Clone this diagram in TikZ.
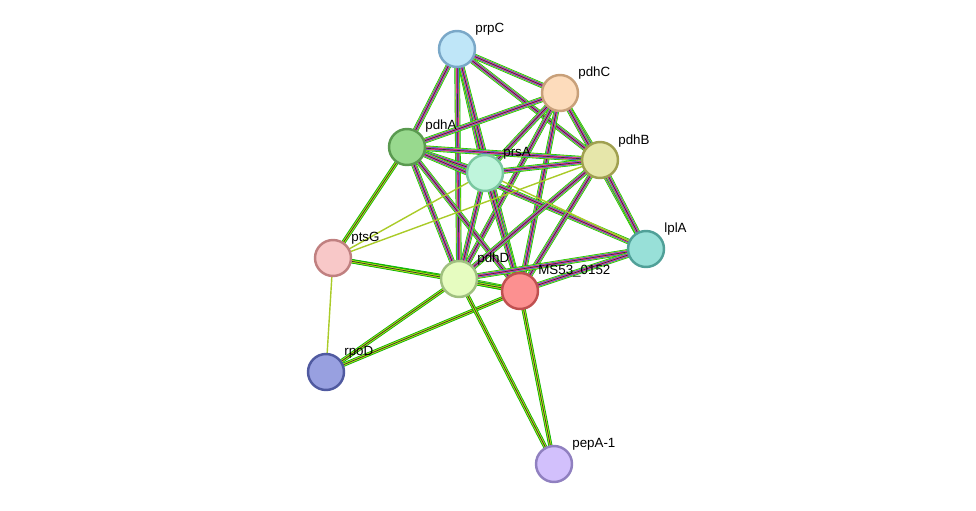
\documentclass[tikz,border=0pt]{standalone}
\usepackage{fontspec}
\setmainfont{Liberation Sans}
\usetikzlibrary{backgrounds}
\begin{document}
\begin{tikzpicture}[x=0.02cm,y=-0.02cm,
  nd/.style={circle,minimum size=0.72cm,line width=1.4pt,inner sep=0pt},
  lb/.style={font=\fontsize{7.6}{9}\selectfont,anchor=west,inner sep=0pt},
  yel/.style={line width=0.8pt,draw=yellow!70!green!90!black}]
\useasboundingbox (0,0) rectangle (976,510);
\node[nd,fill={rgb,255:red,191;green,230;blue,248},draw={rgb,255:red,122;green,168;blue,200}] (prpC) at (457,49) {};
\node[nd,fill={rgb,255:red,253;green,220;blue,188},draw={rgb,255:red,200;green,160;blue,122}] (pdhC) at (560,93) {};
\node[nd,fill={rgb,255:red,152;green,217;blue,142},draw={rgb,255:red,90;green,154;blue,80}] (pdhA) at (407,147) {};
\node[nd,fill={rgb,255:red,191;green,245;blue,220},draw={rgb,255:red,122;green,200;blue,160}] (prsA) at (485,173) {};
\node[nd,fill={rgb,255:red,230;green,230;blue,170},draw={rgb,255:red,160;green,160;blue,80}] (pdhB) at (600,160) {};
\node[nd,fill={rgb,255:red,152;green,224;blue,216},draw={rgb,255:red,80;green,160;blue,152}] (lplA) at (646,249) {};
\node[nd,fill={rgb,255:red,248;green,200;blue,200},draw={rgb,255:red,192;green,128;blue,128}] (ptsG) at (333,258) {};
\node[nd,fill={rgb,255:red,230;green,252;blue,192},draw={rgb,255:red,160;green,192;blue,128}] (pdhD) at (459,279) {};
\node[nd,fill={rgb,255:red,252;green,144;blue,144},draw={rgb,255:red,192;green,80;blue,80}] (MS) at (520,291) {};
\node[nd,fill={rgb,255:red,152;green,160;blue,224},draw={rgb,255:red,80;green,90;blue,160}] (rpoD) at (326,372) {};
\node[nd,fill={rgb,255:red,210;green,192;blue,252},draw={rgb,255:red,144;green,128;blue,192}] (pepA) at (554,464) {};
\node[lb] (l1) at (475,29) {prpC};
\node[lb] (l2) at (578,73) {pdhC};
\node[lb] (l3) at (425,126) {pdhA};
\node[lb] (l4) at (503,153) {prsA};
\node[lb] (l5) at (618,141) {pdhB};
\node[lb] (l6) at (664,229) {lplA};
\node[lb] (l7) at (351,238) {ptsG};
\node[lb] (l8) at (477,259) {pdhD};
\node[lb] (l9) at (538,271) {MS53\_0152};
\node[lb] (l10) at (344,352) {rpoD};
\node[lb] (l11) at (572,444) {pepA-1};
\begin{scope}[on background layer]
\foreach \a/\b in {prpC/pdhA,prpC/prsA,prpC/pdhD,prpC/MS,prpC/pdhC,prpC/pdhB,pdhC/pdhA,pdhC/prsA,pdhC/pdhB,pdhC/pdhD,pdhC/MS,pdhC/lplA,pdhA/prsA,pdhA/pdhB,pdhA/pdhD,pdhA/MS,pdhA/lplA,prsA/pdhB,prsA/pdhD,prsA/MS,pdhB/pdhD,pdhB/MS,pdhB/lplA,lplA/pdhD,lplA/MS,pdhD/MS}{
 \draw[line width=3.2pt,green!75!black] (\a.center)--(\b.center);
 \draw[line width=2.5pt,yellow!80!green] (\a.center)--(\b.center);
 \draw[line width=1.9pt,cyan!70!blue] (\a.center)--(\b.center);
 \draw[line width=1.3pt,magenta!80] (\a.center)--(\b.center);
 \draw[line width=0.4pt,black!80] (\a.center)--(\b.center);}
\foreach \a/\b in {ptsG/pdhD,ptsG/MS,rpoD/pdhD,rpoD/MS,pdhD/pepA,MS/pepA,pdhA/ptsG}{
 \draw[line width=2.4pt,green!70!black] (\a.center)--(\b.center);
 \draw[line width=1.5pt,yellow!70!green] (\a.center)--(\b.center);
 \draw[line width=0.4pt,black!80] (\a.center)--(\b.center);}
\foreach \a/\b in {ptsG/prsA,ptsG/pdhB,ptsG/rpoD,prsA/lplA}{
 \draw[yel] (\a.center)--(\b.center);}
\end{scope}
\end{tikzpicture}
\end{document}
